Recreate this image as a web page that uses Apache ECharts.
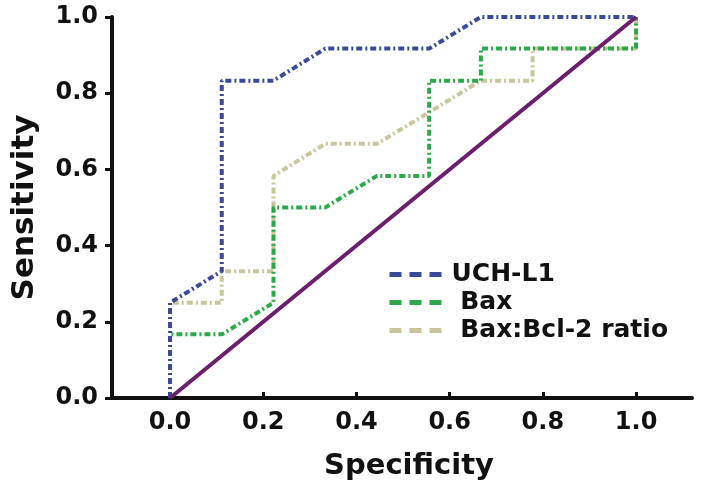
<!DOCTYPE html>
<html>
<head>
<meta charset="utf-8">
<script src="https://cdn.jsdelivr.net/npm/echarts@6/dist/echarts.min.js"></script>
<style>html,body{margin:0;padding:0;background:#fff;}#c{width:701px;height:499px;}</style>
</head>
<body>
<div id="c"></div>
<script>
// ROC curves: x = Specificity, y = Sensitivity
const uchX   = [0, 0, 0.111, 0.111, 0.222, 0.333, 0.556, 0.667, 1.0];
const uchY   = [0, 0.25, 0.333, 0.833, 0.833, 0.917, 0.917, 1.0, 1.0];
const baxX   = [0, 0, 0.111, 0.222, 0.222, 0.333, 0.444, 0.556, 0.556, 0.667, 0.667, 1.0, 1.0];
const baxY   = [0, 0.167, 0.167, 0.25, 0.5, 0.5, 0.583, 0.583, 0.833, 0.833, 0.917, 0.917, 1.0];
const ratioX = [0, 0, 0.111, 0.111, 0.222, 0.222, 0.333, 0.444, 0.556, 0.667, 0.778, 0.778, 1.0, 1.0];
const ratioY = [0, 0.25, 0.25, 0.333, 0.333, 0.583, 0.667, 0.667, 0.75, 0.833, 0.833, 0.917, 0.917, 1.0];
const refX   = [0, 1];
const refY   = [0, 1];
const tickValues = [0, 0.2, 0.4, 0.6, 0.8, 1.0];
const seriesNames = ['UCH-L1', 'Bax', 'Bax:Bcl-2 ratio'];

const zip = (xs, ys) => xs.map((x, i) => [x, ys[i]]);
const FONT = 'DejaVu Sans';
const dashDot = [6, 3, 2, 3];

const chart = echarts.init(document.getElementById('c'));
chart.setOption({
  animation: false,
  backgroundColor: '#ffffff',
  grid: { left: 112, right: 9, top: 17, bottom: 101 },
  xAxis: {
    type: 'value', min: -0.1245, max: 1.12,
    name: 'Specificity', nameLocation: 'middle', nameGap: 54,
    nameTextStyle: { fontFamily: FONT, fontWeight: 'bold', fontSize: 29, color: '#111', padding: [0, 0, 0, 14] },
    axisLine: { onZero: false, lineStyle: { color: '#111', width: 4 } },
    axisTick: { show: true, inside: true, length: 6, lineStyle: { width: 3, color: '#111' }, customValues: tickValues },
    axisLabel: { customValues: tickValues, margin: 13, fontFamily: FONT, fontWeight: 'bold', fontSize: 24, color: '#111',
      formatter: v => v.toFixed(1) },
    splitLine: { show: false }
  },
  yAxis: {
    type: 'value', min: 0, max: 1, interval: 0.2,
    name: 'Sensitivity', nameLocation: 'middle', nameGap: 72,
    nameTextStyle: { fontFamily: FONT, fontWeight: 'bold', fontSize: 31, color: '#111' },
    axisLine: { onZero: false, lineStyle: { color: '#111', width: 4 } },
    axisTick: { show: true, inside: false, length: 7, lineStyle: { width: 3, color: '#111' } },
    axisLabel: { margin: 14, fontFamily: FONT, fontWeight: 'bold', fontSize: 24, color: '#111',
      formatter: v => v.toFixed(1) },
    splitLine: { show: false }
  },
  legend: {
    data: seriesNames,
    orient: 'vertical', left: 382, top: 256,
    itemWidth: 55, itemHeight: 14, itemGap: 1,
    lineStyle: { type: [12, 8], width: 5 },
    itemStyle: { color: 'rgba(0,0,0,0)', borderWidth: 0, opacity: 0 },
    formatter: n => n === 'UCH-L1' ? n : ' ' + n,
    textStyle: { fontFamily: FONT, fontWeight: 'bold', fontSize: 25, color: '#111', lineHeight: 27, padding: [0, 0, 0, 2] }
  },
  series: [
    { name: seriesNames[0], type: 'line', data: zip(uchX, uchY), symbol: 'none', showSymbol: false,
      lineStyle: { color: '#3b4a98', width: 4, type: dashDot }, itemStyle: { color: '#3b4a98' }, z: 3 },
    { name: seriesNames[1], type: 'line', data: zip(baxX, baxY), symbol: 'none', showSymbol: false,
      lineStyle: { color: '#2aa84a', width: 4, type: dashDot }, itemStyle: { color: '#2aa84a' }, z: 2 },
    { name: seriesNames[2], type: 'line', data: zip(ratioX, ratioY), symbol: 'none', showSymbol: false,
      lineStyle: { color: '#c9c59b', width: 4, type: dashDot }, itemStyle: { color: '#c9c59b' }, z: 1 },
    { name: 'Reference', type: 'line', data: zip(refX, refY), symbol: 'none', showSymbol: false,
      lineStyle: { color: '#6b1e6c', width: 4, type: 'solid' }, itemStyle: { color: '#6b1e6c' }, z: 4 }
  ]
});
</script>
</body>
</html>
